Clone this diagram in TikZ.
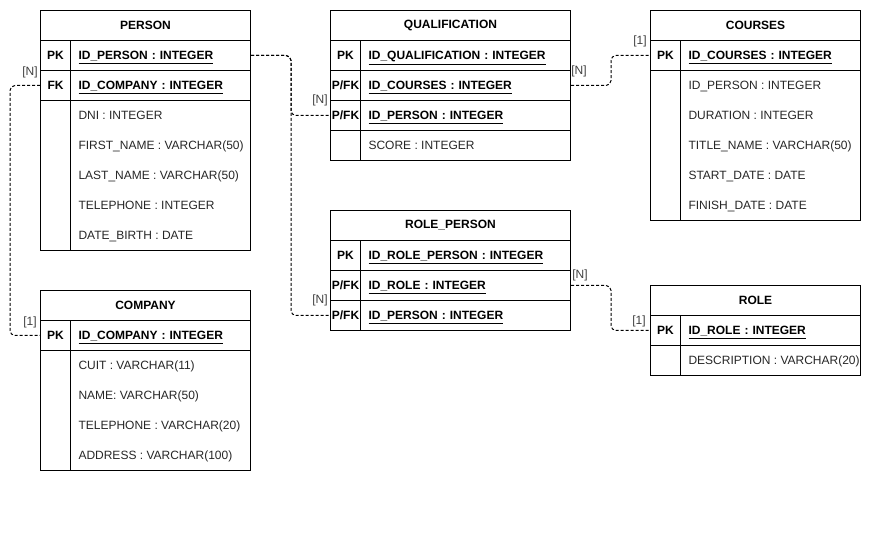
\documentclass[tikz,border=0pt]{standalone}
\usepackage{fontspec}
\setmainfont{Liberation Sans}
\usepackage{tikz}

\begin{document}
\begin{tikzpicture}[x=1pt, y=-1pt, line width=1pt, font=\fontsize{12}{14}\selectfont,
    tbl/.style={draw, anchor=north west, inner sep=0pt, minimum height=30pt, font=\fontsize{12}{14}\selectfont\bfseries},
    keycell/.style={draw, anchor=north west, inner sep=0pt, minimum width=30pt, minimum height=30pt, font=\fontsize{12}{14}\selectfont\bfseries},
    kfld/.style={draw, anchor=north west, inner xsep=8pt, inner ysep=0pt, minimum height=30pt, text width=#1, align=left, text height=9pt, text depth=0pt, font=\fontsize{12}{14}\selectfont\bfseries},
    box/.style={draw, anchor=north west, inner sep=0pt, minimum width=#1, minimum height=30pt},
    attr/.style={anchor=west, inner sep=0pt, text height=9pt, text depth=0pt, text=black!85},
    card/.style={text=black!75, inner sep=0pt},
    rel/.style={draw, dash pattern=on 3pt off 2pt, rounded corners=5pt}]
    \useasboundingbox (0,0) rectangle (881,534);

    % PERSON
    \node[tbl, minimum width=210pt] (person) at (40,10) {PERSON};
    \node[keycell] (person-pk) at (40,40) {PK};
    \node[kfld=164pt] (person-id) at (70,40) {\underline{ID\_PERSON : INTEGER}};
    \node[keycell] (person-fk) at (40,70) {FK};
    \node[kfld=164pt] (person-comp) at (70,70) {\underline{ID\_COMPANY : INTEGER}};
    \node[keycell, minimum height=150pt] (person-x) at (40,100) {};
    \node[box=180pt, minimum height=150pt] (person-attr) at (70,100) {};
    \node[attr] (person-dni) at (78,115) {DNI : INTEGER};
    \node[attr] (person-first) at (78,145) {FIRST\_NAME : VARCHAR(50)};
    \node[attr] (person-last) at (78,175) {LAST\_NAME : VARCHAR(50)};
    \node[attr] (person-tel) at (78,205) {TELEPHONE : INTEGER};
    \node[attr] (person-birth) at (78,235) {DATE\_BIRTH : DATE};

    % COMPANY
    \node[tbl, minimum width=210pt] (company) at (40,290) {COMPANY};
    \node[keycell] (company-pk) at (40,320) {PK};
    \node[kfld=164pt] (company-id) at (70,320) {\underline{ID\_COMPANY : INTEGER}};
    \node[keycell, minimum height=120pt] (company-x) at (40,350) {};
    \node[box=180pt, minimum height=120pt] (company-attr) at (70,350) {};
    \node[attr] (company-cuit) at (78,365) {CUIT : VARCHAR(11)};
    \node[attr] (company-name) at (78,395) {NAME: VARCHAR(50)};
    \node[attr] (company-tel) at (78,425) {TELEPHONE : VARCHAR(20)};
    \node[attr] (company-addr) at (78,455) {ADDRESS : VARCHAR(100)};

    % QUALIFICATION
    \node[tbl, minimum width=240pt] (qual) at (330,10) {QUALIFICATION};
    \node[keycell] (qual-pk) at (330,40) {PK};
    \node[kfld=194pt] (qual-id) at (360,40) {\underline{ID\_QUALIFICATION : INTEGER}};
    \node[keycell] (qual-fk1) at (330,70) {P/FK};
    \node[kfld=194pt] (qual-cour) at (360,70) {\underline{ID\_COURSES : INTEGER}};
    \node[keycell] (qual-fk2) at (330,100) {P/FK};
    \node[kfld=194pt] (qual-pers) at (360,100) {\underline{ID\_PERSON : INTEGER}};
    \node[keycell] (qual-x) at (330,130) {};
    \node[box=210pt] (qual-attr) at (360,130) {};
    \node[attr] (qual-score) at (368,145) {SCORE : INTEGER};

    % ROLE_PERSON
    \node[tbl, minimum width=240pt] (rolep) at (330,210) {ROLE\_PERSON};
    \node[keycell] (rolep-pk) at (330,240) {PK};
    \node[kfld=194pt] (rolep-id) at (360,240) {\underline{ID\_ROLE\_PERSON : INTEGER}};
    \node[keycell] (rolep-fk1) at (330,270) {P/FK};
    \node[kfld=194pt] (rolep-role) at (360,270) {\underline{ID\_ROLE : INTEGER}};
    \node[keycell] (rolep-fk2) at (330,300) {P/FK};
    \node[kfld=194pt] (rolep-pers) at (360,300) {\underline{ID\_PERSON : INTEGER}};

    % COURSES
    \node[tbl, minimum width=210pt] (courses) at (650,10) {COURSES};
    \node[keycell] (courses-pk) at (650,40) {PK};
    \node[kfld=164pt] (courses-id) at (680,40) {\underline{ID\_COURSES : INTEGER}};
    \node[keycell, minimum height=150pt] (courses-x) at (650,70) {};
    \node[box=180pt, minimum height=150pt] (courses-attr) at (680,70) {};
    \node[attr] (courses-pers) at (688,85) {ID\_PERSON : INTEGER};
    \node[attr] (courses-dur) at (688,115) {DURATION : INTEGER};
    \node[attr] (courses-title) at (688,145) {TITLE\_NAME : VARCHAR(50)};
    \node[attr] (courses-start) at (688,175) {START\_DATE : DATE};
    \node[attr] (courses-end) at (688,205) {FINISH\_DATE : DATE};

    % ROLE
    \node[tbl, minimum width=210pt] (role) at (650,285) {ROLE};
    \node[keycell] (role-pk) at (650,315) {PK};
    \node[kfld=164pt] (role-id) at (680,315) {\underline{ID\_ROLE : INTEGER}};
    \node[keycell] (role-x) at (650,345) {};
    \node[box=180pt] (role-attr) at (680,345) {};
    \node[attr] (role-desc) at (688,360) {DESCRIPTION : VARCHAR(20)};

    % relations
    \draw[rel] (person-fk.west) -- ++(-30,0) |- (company-pk.west);
    \draw[rel] (person-id.east) -- ++(40,0) |- (qual-fk2.west);
    \draw[rel] (person-id.east) -- ++(40,0) |- (rolep-fk2.west);
    \draw[rel] (qual-cour.east) -- ++(40,0) |- (courses-pk.west);
    \draw[rel] (rolep-role.east) -- ++(40,0) |- (role-pk.west);

    \node[card] (c1) at (30,72) {[N]};
    \node[card] (c2) at (30,322) {[1]};
    \node[card] (c3) at (320,100) {[N]};
    \node[card] (c4) at (320,300) {[N]};
    \node[card] (c5) at (579,71) {[N]};
    \node[card] (c6) at (640,41) {[1]};
    \node[card] (c7) at (580,275) {[N]};
    \node[card] (c8) at (639,321) {[1]};
\end{tikzpicture}
\end{document}
